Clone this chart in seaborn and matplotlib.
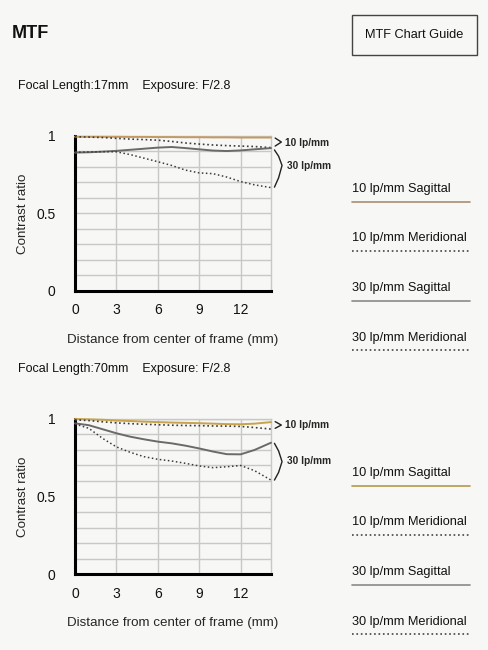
import numpy as np
import pandas as pd
import matplotlib
matplotlib.use("Agg")
import matplotlib.pyplot as plt
from matplotlib.lines import Line2D
from matplotlib.patches import Rectangle
import seaborn as sns

# ---- data ----
dist = [0, 1, 2, 3, 4, 5, 6, 7, 8, 9, 10, 11, 12, 13, 14.2]

# 17mm, F/2.8
w_10s = [0.995, 0.995, 0.995, 0.995, 0.994, 0.994, 0.993, 0.993, 0.992, 0.992, 0.991, 0.991, 0.990, 0.990, 0.990]
w_10m = [0.995, 0.993, 0.990, 0.985, 0.980, 0.977, 0.973, 0.965, 0.955, 0.948, 0.942, 0.938, 0.935, 0.932, 0.925]
w_30s = [0.893, 0.895, 0.899, 0.904, 0.911, 0.918, 0.925, 0.929, 0.922, 0.914, 0.906, 0.903, 0.907, 0.914, 0.922]
w_30m = [0.895, 0.897, 0.899, 0.898, 0.880, 0.857, 0.834, 0.810, 0.780, 0.762, 0.757, 0.735, 0.706, 0.685, 0.667]

# 70mm, F/2.8
t_10s = [1.000, 0.998, 0.995, 0.990, 0.987, 0.983, 0.980, 0.977, 0.975, 0.973, 0.970, 0.967, 0.966, 0.970, 0.980]
t_10m = [0.995, 0.990, 0.982, 0.975, 0.970, 0.966, 0.963, 0.960, 0.958, 0.957, 0.955, 0.954, 0.952, 0.945, 0.935]
t_30s = [0.972, 0.960, 0.934, 0.908, 0.886, 0.869, 0.854, 0.843, 0.828, 0.810, 0.790, 0.773, 0.772, 0.800, 0.847]
t_30m = [0.968, 0.940, 0.875, 0.820, 0.785, 0.757, 0.740, 0.729, 0.714, 0.697, 0.686, 0.692, 0.700, 0.667, 0.606]

x_ticks = [0, 3, 6, 9, 12]
y_ticks = [0, 0.5, 1]
y_ticklabels = ["0", "0.5", "1"]
legend_labels = ["10 lp/mm Sagittal", "10 lp/mm Meridional", "30 lp/mm Sagittal", "30 lp/mm Meridional"]

BG = "#f7f7f5"
W, H = 489, 650

sns.set_theme(style="white")
plt.rcParams["font.family"] = ["Liberation Sans", "DejaVu Sans"]

fig = plt.figure(figsize=(W / 100, H / 100), dpi=100, facecolor=BG)


def fx(px):
    return px / W


def fy(py):
    return 1 - py / H


def draw_panel(top_px, vals, sag_col):
    ax = fig.add_axes([fx(75), fy(top_px + 155), fx(196), 155 / H])
    ax.set_facecolor(BG)
    df = pd.DataFrame({"dist": dist, "10S": vals[0], "10M": vals[1], "30S": vals[2], "30M": vals[3]})
    styles = [("10S", sag_col, "-", 1.4), ("10M", "#3a3a3a", ":", 1.2),
              ("30S", "#6a6a6a", "-", 1.4), ("30M", "#3a3a3a", ":", 1.1)]
    for col, c, ls, lw in styles:
        sns.lineplot(data=df, x="dist", y=col, ax=ax, color=c, linestyle=ls, lw=lw,
                     clip_on=False, zorder=5)
    ax.set_xlim(0, 14.2)
    ax.set_ylim(0, 1)
    ax.set_xticks(x_ticks)
    ax.set_yticks(y_ticks)
    ax.set_yticklabels(y_ticklabels)
    ax.set_yticks(np.arange(0.1, 1.0, 0.1), minor=True)
    ax.grid(True, which="both", color="#c8c8c8", lw=1.0)
    ax.tick_params(axis="y", which="major", direction="in", length=8, width=2, color="k",
                   pad=14, labelsize=10)
    ax.tick_params(axis="y", which="minor", direction="in", length=5, width=2, color="k")
    ax.tick_params(axis="x", which="major", direction="in", length=4, width=2, color="k",
                   pad=9, labelsize=10)
    for s in ["left", "bottom"]:
        ax.spines[s].set_color("black")
        ax.spines[s].set_linewidth(2.2)
    for s in ["top", "right"]:
        ax.spines[s].set_color("#c8c8c8")
        ax.spines[s].set_linewidth(1.0)
    ax.set_xlabel("Distance from center of frame (mm)", fontsize=9.6, labelpad=12)
    ax.set_ylabel("Contrast ratio", fontsize=9.6, labelpad=5)
    for lab in ax.get_xticklabels() + ax.get_yticklabels():
        lab.set_color("#111111")
    return ax


panels = [
    (136, [w_10s, w_10m, w_30s, w_30m], "#c49a62", "#a88f70", "17mm", 86,
     (0.987, 0.961, 0.935), (0.91, 0.81, 0.67), 0.957, 0.805, 189),
    (419, [t_10s, t_10m, t_30s, t_30m], "#c9a24a", "#b59a48", "70mm", 369,
     (0.983, 0.961, 0.940), (0.843, 0.725, 0.606), 0.961, 0.727, 473),
]

for top_px, vals, sag_col, leg_col, focal, focal_y, b10, b30, t10, t30, leg_y in panels:
    ax = draw_panel(top_px, vals, sag_col)
    fig.text(fx(18), fy(focal_y), f"Focal Length:{focal}    Exposure: F/2.8",
             fontsize=9, va="center", ha="left", color="#111111")
    # brackets to the right of the plot
    ax.plot([14.5, 14.95, 14.5], list(b10), color="#222222", lw=1.0, clip_on=False)
    ax.plot([14.45, 14.75, 15.0, 14.75, 14.45],
            [b30[0], (b30[0] + b30[1]) / 2 + 0.01, b30[1], (b30[1] + b30[2]) / 2 - 0.01, b30[2]],
            color="#222222", lw=1.0, clip_on=False)
    ax.text(15.25, t10, "10 lp/mm", fontsize=7.3, fontweight="semibold", va="center", ha="left")
    ax.text(15.35, t30, "30 lp/mm", fontsize=7.3, fontweight="semibold", va="center", ha="left")
    # legend on the right
    leg_styles = [(leg_col, "-"), ("#444444", ":"), ("#8a8a8a", "-"), ("#444444", ":")]
    for i, (lab, (c, ls)) in enumerate(zip(legend_labels, leg_styles)):
        yy = leg_y + i * 49.5
        fig.text(fx(352), fy(yy), lab, fontsize=9.2, va="center", ha="left", color="#111111")
        fig.add_artist(Line2D([fx(352), fx(470)], [fy(yy + 12.5), fy(yy + 12.5)],
                              color=c, linestyle=ls, lw=1.2))

fig.text(fx(12), fy(33), "MTF", fontsize=13, fontweight="bold", va="center", ha="left",
         color="#111111")
fig.add_artist(Rectangle((fx(352), fy(55)), fx(125), 40 / H, transform=fig.transFigure,
                         fill=False, edgecolor="#444444", lw=1.0))
fig.text(fx(414.5), fy(35), "MTF Chart Guide", fontsize=9.2, va="center", ha="center",
         color="#111111")

fig.savefig("out.png", dpi=100, facecolor=BG)
